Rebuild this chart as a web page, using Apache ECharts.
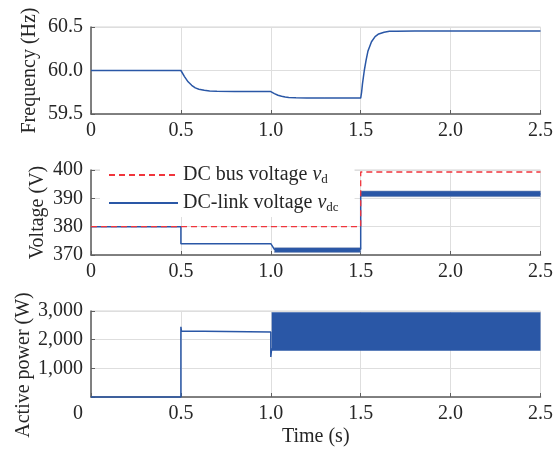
<!DOCTYPE html>
<html lang="en">
<head>
    <meta charset="UTF-8">
    <title>Frequency, voltage and active power</title>
    <script src="https://cdn.jsdelivr.net/npm/echarts@6.0.0/dist/echarts.min.js"></script>
    <style>
        body { margin: 0; background: #fff; }
        #main { width: 556px; height: 449px; }
    </style>
</head>
<body>
<div id="main"></div>
<script>
    // x axis ticks (s)
    const timeTicks = [0, 0.5, 1.0, 1.5, 2.0, 2.5];

    // frequency (Hz)
    const freqT = [0, 0.5, 0.52, 0.54, 0.56, 0.58, 0.6, 0.63, 0.66, 0.7, 0.8, 1.0, 1.02, 1.04, 1.06, 1.08, 1.1, 1.14, 1.2, 1.3, 1.5,
                   1.505, 1.51, 1.52, 1.53, 1.54, 1.56, 1.58, 1.6, 1.63, 1.66, 1.7, 1.8, 2.5];
    const freqV = [60.0, 60.0, 59.93, 59.87, 59.83, 59.8, 59.785, 59.772, 59.765, 59.762, 59.76, 59.758, 59.735, 59.715, 59.703, 59.695, 59.69, 59.686, 59.684, 59.683, 59.683,
                   59.75, 59.85, 60.0, 60.12, 60.22, 60.33, 60.39, 60.42, 60.44, 60.45, 60.452, 60.453, 60.453];

    // DC bus voltage vd (V)
    const vdT = [0, 1.5, 1.5, 2.5];
    const vdV = [380, 380, 399.3, 399.3];

    // DC-link voltage vdc (V), mean trace
    const vdcT = [0, 0.5, 0.5, 1.0, 1.01, 1.02, 1.5, 1.5, 2.5];
    const vdcV = [380, 380, 374, 374, 373.6, 372, 372, 391.5, 391.5];
    // vdc ripple bands: [t start, t end, low, high]
    const vdcBands = [[1.02, 1.5, 370.9, 372.6], [1.5, 2.5, 390.6, 392.6]];

    // active power (W)
    const powT = [0, 0.5, 0.5, 0.503, 0.51, 1.0, 1.0, 1.005];
    const powV = [0, 0, 2450, 2300, 2267, 2267, 1395, 1700];
    const powBands = [[1.005, 2.5, 1615, 2955]];

    const FONT = 'Liberation Serif';
    const TXT = '#262626';
    const BLUE = '#2a57a6';
    const RED = '#f0353c';
    const AXIS = '#5f5f5f';
    const GRIDC = '#dedede';

    const zip = (a, b) => a.map((t, i) => [t, b[i]]);

    const grids = [
        { left: 91, right: 15, top: 27, height: 87 },
        { left: 91, right: 15, top: 170, height: 85 },
        { left: 91, right: 15, top: 311, height: 86 }
    ].map(g => Object.assign(g, { show: true, borderColor: '#d4d4d4', borderWidth: 1, backgroundColor: 'transparent' }));

    function xAxis(idx) {
        return {
            type: 'value', gridIndex: idx, min: 0, max: 2.5, interval: 0.5,
            axisLine: { show: true, onZero: false, lineStyle: { color: AXIS, width: 1.5 } },
            axisTick: { show: true, inside: true, length: 4, lineStyle: { color: AXIS } },
            splitLine: { show: true, lineStyle: { color: GRIDC } },
            axisLabel: {
                fontFamily: FONT, fontSize: 20, color: TXT, margin: 7,
                formatter: v => {
                    if (v === 0) return idx === 2 ? '{z|0}' : '0';
                    return v.toFixed(1);
                },
                rich: { z: { fontFamily: FONT, fontSize: 20, color: TXT, padding: [0, 26, 0, 0] } }
            },
            name: idx === 2 ? 'Time (s)' : '',
            nameLocation: 'middle', nameGap: 30, nameMoveOverlap: false,
            nameTextStyle: { fontFamily: FONT, fontSize: 20, color: TXT }
        };
    }

    function yAxis(idx, min, max, interval, name, gap, fmt, pad) {
        return {
            type: 'value', gridIndex: idx, min: min, max: max, interval: interval,
            axisLine: { show: true, lineStyle: { color: AXIS, width: 1.5 } },
            axisTick: { show: true, inside: true, length: 4, lineStyle: { color: AXIS } },
            splitLine: { show: true, lineStyle: { color: GRIDC } },
            axisLabel: { fontFamily: FONT, fontSize: 20, color: TXT, margin: 8, formatter: fmt },
            name: name, nameLocation: 'middle', nameGap: gap, nameMoveOverlap: false,
            nameTextStyle: { fontFamily: FONT, fontSize: 20, color: TXT, padding: pad }
        };
    }

    function band(name, xi, data, stroke) {
        return {
            name: name, type: 'custom', xAxisIndex: xi, yAxisIndex: xi,
            data: data, encode: { x: [0, 1], y: [2, 3] }, silent: true,
            renderItem: (params, api) => {
                const a = api.coord([api.value(0), api.value(3)]);
                const b = api.coord([api.value(1), api.value(2)]);
                return {
                    type: 'rect',
                    shape: { x: a[0], y: a[1], width: b[0] - a[0], height: b[1] - a[1] },
                    style: { fill: BLUE, stroke: stroke, lineWidth: 1 }
                };
            }
        };
    }

    const chart = echarts.init(document.getElementById('main'));
    chart.setOption({
        animation: false,
        grid: grids,
        xAxis: [xAxis(0), xAxis(1), xAxis(2)],
        yAxis: [
            yAxis(0, 59.5, 60.5, 0.5, 'Frequency (Hz)', 51, v => v.toFixed(1), [0, 0, 0, 0]),
            yAxis(1, 370, 400, 10, 'Voltage (V)', 43, v => String(v), [0, 0, 0, 0]),
            yAxis(2, 0, 3000, 1000, 'Active power (W)', 57, v => v === 0 ? '' : v.toLocaleString('en-US'), [0, 22, 0, 0])
        ],
        legend: {
            data: ['vd', 'vdc'],
            orient: 'vertical', left: 100, top: 161,
            backgroundColor: '#fff', padding: [3, 16, 3, 8],
            itemWidth: 69, itemHeight: 14, itemGap: 6,
            itemStyle: { opacity: 0 },
            formatter: n => n === 'vd' ? 'DC bus voltage {v|v}{s|d}' : 'DC-link voltage {v|v}{s|dc}',
            textStyle: {
                fontFamily: FONT, fontSize: 20, color: TXT, lineHeight: 22,
                rich: {
                    v: { fontFamily: FONT, fontSize: 20, fontStyle: 'italic', color: TXT },
                    s: { fontFamily: FONT, fontSize: 13, color: TXT, padding: [9, 0, 0, 0] }
                }
            }
        },
        series: [
            {
                name: 'freq', type: 'line', xAxisIndex: 0, yAxisIndex: 0,
                data: zip(freqT, freqV), showSymbol: false, symbol: 'none',
                lineStyle: { color: BLUE, width: 1.5 }
            },
            band('vdcBand', 1, vdcBands, 'rgba(140,155,185,0.55)'),
            {
                name: 'vdc', type: 'line', xAxisIndex: 1, yAxisIndex: 1,
                data: zip(vdcT, vdcV), showSymbol: false, symbol: 'none',
                itemStyle: { color: BLUE },
                lineStyle: { color: BLUE, width: 1.5 }
            },
            {
                name: 'vd', type: 'line', xAxisIndex: 1, yAxisIndex: 1,
                data: zip(vdT, vdV), showSymbol: false, symbol: 'none',
                itemStyle: { color: RED },
                lineStyle: { color: RED, width: 1.3, type: [6, 4] }, z: 3
            },
            band('powBand', 2, powBands, null),
            {
                name: 'power', type: 'line', xAxisIndex: 2, yAxisIndex: 2,
                data: zip(powT, powV), showSymbol: false, symbol: 'none', clip: false,
                lineStyle: { color: BLUE, width: 1.5 }
            }
        ]
    });
</script>
</body>
</html>
